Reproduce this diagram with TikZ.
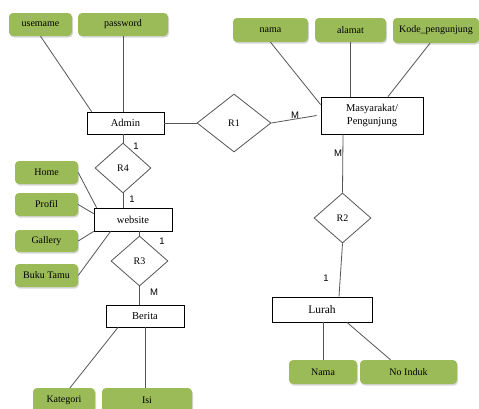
\documentclass[tikz,border=0pt]{standalone}
\usepackage{fontspec}
\setmainfont{Liberation Serif}
\newfontfamily\labfont{Liberation Sans}
\usetikzlibrary{shapes.geometric,shadows}
\definecolor{attrgreen}{RGB}{155,187,89}
\definecolor{linegrey}{RGB}{85,85,85}
\tikzset{
  attr/.style={rectangle, rounded corners=4pt, fill=attrgreen, draw=none, inner sep=0pt,
    font=\fontsize{10}{12}\selectfont,
    drop shadow={shadow xshift=1pt, shadow yshift=-1.5pt, fill=black!25, opacity=0.6}},
  ent/.style={rectangle, draw=black, line width=0.8pt, fill=white, inner sep=0pt,
    font=\fontsize{10.5}{12.5}\selectfont, align=center},
  rel/.style={diamond, draw=linegrey, line width=0.8pt, fill=white, inner sep=0pt,
    font=\fontsize{10}{12}\selectfont},
  conn/.style={draw=linegrey, line width=0.8pt},
  card/.style={font=\labfont\fontsize{9.5}{11}\selectfont, inner sep=0pt}
}
\begin{document}
\begin{tikzpicture}[x=1pt,y=-1pt]
\clip (0,0) rectangle (479,408);
\fill[white] (0,0) rectangle (479,408);
% attributes
\node[attr, minimum width=63, minimum height=23] (usemame) at (40.5,24.5) {usemame};
\node[attr, minimum width=90, minimum height=23] (password) at (123,24.5) {password};
\node[attr, minimum width=75, minimum height=24] (nama) at (270.5,30) {nama};
\node[attr, minimum width=71, minimum height=24] (alamat) at (350.5,30) {alamat};
\node[attr, minimum width=86, minimum height=25] (kode) at (436,30.5) {Kode\_pengunjung};
\node[attr, minimum width=63, minimum height=23] (home) at (46.5,172.5) {Home};
\node[attr, minimum width=63, minimum height=23] (profil) at (46.5,204.5) {Profil};
\node[attr, minimum width=63, minimum height=22] (gallery) at (46.5,241) {Gallery};
\node[attr, minimum width=63, minimum height=23] (buku) at (46.5,275.5) {Buku Tamu};
\node[attr, minimum width=62, minimum height=24] (kategori) at (64,400) {Kategori};
\node[attr, minimum width=90, minimum height=24] (isi) at (147,400) {Isi};
\node[attr, minimum width=68, minimum height=24] (nama2) at (323,372) {Nama};
\node[attr, minimum width=97, minimum height=24] (noinduk) at (408.5,372) {No Induk};
% entities
\node[ent, minimum width=77, minimum height=22] (admin) at (125.5,123) {Admin};
\node[ent, minimum width=102, minimum height=37] (masy) at (372,115.5) {Masyarakat/\\Pengunjung};
\node[ent, minimum width=78, minimum height=23] (website) at (133,219.5) {website};
\node[ent, minimum width=78, minimum height=22] (berita) at (145,316) {Berita};
\node[ent, minimum width=100, minimum height=25] (lurah) at (322,309.5) {\fontsize{11.5}{13}\selectfont Lurah};
% relationships
\node[rel, minimum width=74, minimum height=58] (r1) at (234,123) {R1};
\node[rel, minimum width=56, minimum height=50] (r4) at (123,168) {R4};
\node[rel, minimum width=57, minimum height=50] (r3) at (139.5,261) {R3};
\node[rel, minimum width=57, minimum height=50] (r2) at (342.5,218) {R2};
% connectors
\draw[conn] (usemame.south) -- ([xshift=5]admin.north west);
\draw[conn] (password.south) -- (password.south |- admin.north);
\draw[conn] (nama.south) -- ([yshift=-8]masy.north west);
\draw[conn] (alamat.south) -- (alamat.south |- masy.north);
\draw[conn] ([xshift=-6]kode.south) -- ([xshift=16]masy.north);
\draw[conn] (admin.east) -- (r1.west);
\draw[conn] (r1.east) -- ([xshift=-4]masy.west);
\draw[conn] ([xshift=-29]masy.south) -- (r2.north);
\draw[conn] (r2.south) -- ([xshift=17]lurah.north);
\draw[conn] (nama2.north |- lurah.south) -- (nama2.north);
\draw[conn] ([xshift=25]lurah.south) -- ([xshift=-18]noinduk.north);
\draw[conn] (r4.north |- admin.south) -- (r4.north);
\draw[conn] (r4.south) -- (r4.south |- website.north);
\draw[conn] (home.east) -- ([xshift=3]website.north west);
\draw[conn] (profil.east) -- ([yshift=-6]website.north west);
\draw[conn] (gallery.east) -- (website.south west);
\draw[conn] (buku.east) -- ([xshift=17]website.south west);
\draw[conn] (r3.north |- website.south) -- (r3.north);
\draw[conn] (r3.south) -- (r3.south |- berita.north);
\draw[conn] ([xshift=-27]berita.south) -- ([xshift=6]kategori.north);
\draw[conn] ([xshift=-2]isi.north |- berita.south) -- ([xshift=-2]isi.north);
% cardinalities
\node[card] (c1) at (136,146) {1};
\node[card] (c2) at (132,199) {1};
\node[card] (c3) at (162,241) {1};
\node[card] (c4) at (154,292) {M};
\node[card] (c5) at (295,115) {M};
\node[card] (c6) at (338,153) {M};
\node[card] (c7) at (326,278) {1};
\end{tikzpicture}
\end{document}
